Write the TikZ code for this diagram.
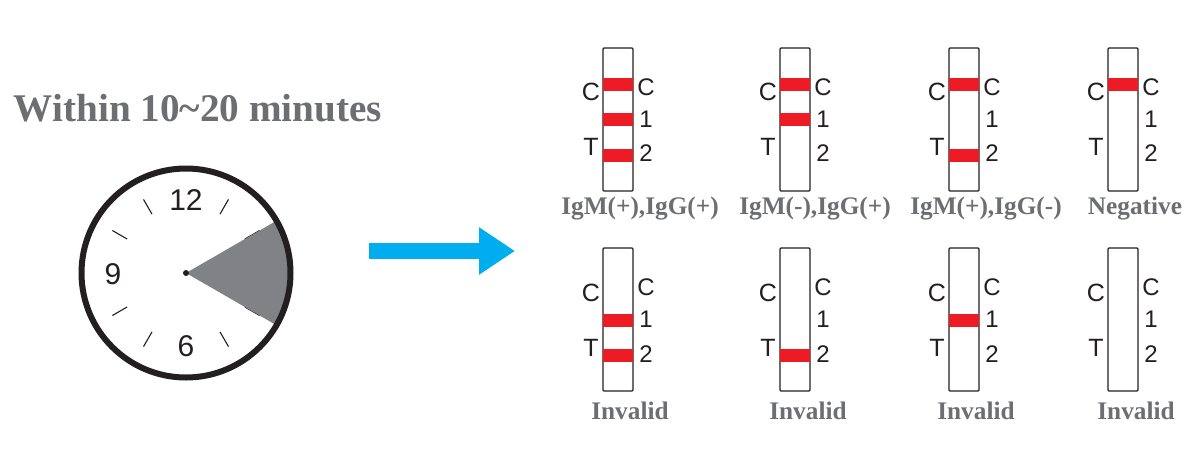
\documentclass[tikz,border=0pt]{standalone}
\usepackage{fontspec}
\setmainfont{Liberation Serif}
\newfontfamily\labelfont{Liberation Sans}
\usetikzlibrary{arrows.meta}
\definecolor{capgray}{HTML}{6D6E71}
\definecolor{wedgegray}{HTML}{808285}
\definecolor{inkblack}{HTML}{231F20}
\definecolor{bandred}{HTML}{ED1C24}
\definecolor{arrowblue}{HTML}{00AEEF}
\tikzset{
  caption/.style={font=\bfseries\fontsize{25.3}{27}\selectfont,text=capgray,inner sep=0pt},
  digit/.style={font=\labelfont\fontsize{24}{26}\selectfont,text=inkblack,inner sep=0pt},
  letter/.style={font=\labelfont\fontsize{25}{27}\selectfont,text=inkblack,inner sep=0pt},
  clockdigit/.style={font=\labelfont\fontsize{30}{32}\selectfont,text=inkblack,inner sep=0pt},
  stripbox/.style={draw=inkblack,line width=1.1pt,rounded corners=1pt,minimum width=30pt,minimum height=143pt,inner sep=0pt},
  band/.style={fill=bandred}
}
\begin{document}
\begin{tikzpicture}[x=1pt,y=-1pt]
  \useasboundingbox (0,0) rectangle (1199,456);
  \node[caption,font=\bfseries\fontsize{39.2}{41}\selectfont] (title) at (198,108) {Within 10\textasciitilde20 minutes};
  % Clock
  \begin{scope}[shift={(186,273)}]
    \foreach \a in {30,60,120,150,210,240,300,330}
      \draw[inkblack,line width=1.1pt] (\a:68) -- (\a:85);
    \fill[wedgegray] (0,0) -- (30:104) arc[start angle=30,end angle=-30,radius=104] -- cycle;
    \draw[inkblack,line width=6pt] (0,0) circle (104.5);
    \fill[inkblack] (0,0) circle (3);
    \node[clockdigit] (twelve) at (0,-73) {12};
    \node[clockdigit] (nine) at (-73,1) {9};
    \node[clockdigit] (six) at (0,73) {6};
  \end{scope}
  % Arrow
  \coordinate (arrowstart) at (369,251);
  \coordinate (arrowend) at (515,251);
  \draw[arrowblue,line width=16pt,-{Triangle[length=36pt,width=45pt]}] (arrowstart) -- (arrowend);
  % Strips, top row
  \foreach \n/\x in {a/603,b/780,c/949,d/1108} {
    \node[stripbox] (strip\n) at (\x+15,119.5) {};
    \node[letter] (cl\n) at (\x-12,92) {C};
    \node[letter] (tl\n) at (\x-12,147) {T};
    \node[digit] (cr\n) at (\x+43,87) {C};
    \node[digit] (one\n) at (\x+43,119) {1};
    \node[digit] (two\n) at (\x+43,153) {2};
  }
  \foreach \x in {603,780,949,1108} \fill[band] (\x,78) rectangle (\x+30,91);
  \foreach \x in {603,780} \fill[band] (\x,113) rectangle (\x+30,126);
  \foreach \x in {603,949} \fill[band] (\x,149) rectangle (\x+30,162);
  \node[caption] (resa) at (640,209) {IgM(+),IgG(+)};
  \node[caption] (resb) at (815,209) {IgM(-),IgG(+)};
  \node[caption] (resc) at (986,209) {IgM(+),IgG(-)};
  \node[caption] (resd) at (1135,209) {Negative};
  % Strips, bottom row
  \foreach \n/\x/\c in {e/603/630,f/780/808,g/949/976,h/1108/1136} {
    \node[stripbox] (strip\n) at (\x+15,319.5) {};
    \node[letter] (cl\n) at (\x-12,293) {C};
    \node[letter] (tl\n) at (\x-12,348) {T};
    \node[digit] (cr\n) at (\x+43,287) {C};
    \node[digit] (one\n) at (\x+43,319) {1};
    \node[digit] (two\n) at (\x+43,354) {2};
    \node[caption] (res\n) at (\c,411) {Invalid};
  }
  \foreach \x in {603,949} \fill[band] (\x,314) rectangle (\x+30,327);
  \foreach \x in {603,780} \fill[band] (\x,349) rectangle (\x+30,362);
\end{tikzpicture}
\end{document}
